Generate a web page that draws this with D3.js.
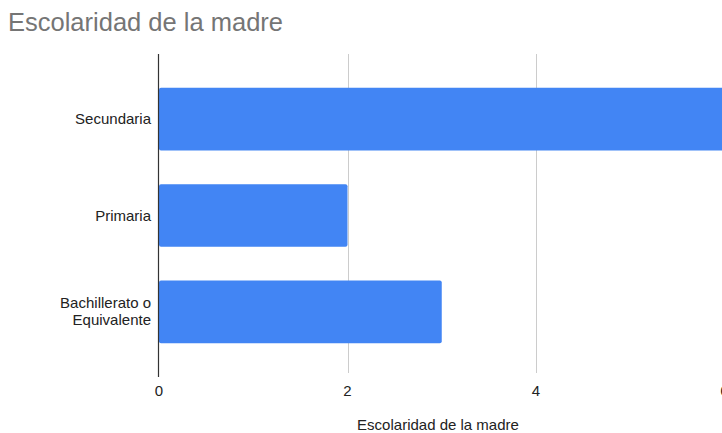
<!DOCTYPE html>
<html>
<head>
<meta charset="utf-8">
<script src="https://cdn.jsdelivr.net/npm/d3@7"></script>
<style>
  html, body { margin: 0; padding: 0; background: #fff; overflow: hidden; }
  svg { display: block; font-family: Arial, "Liberation Sans", sans-serif; }
</style>
</head>
<body>
<div id="chart"></div>
<script>
'use strict';

// chart data
const categories = ["Secundaria", "Primaria", "Bachillerato o Equivalente"];
const categoryLines = [["Secundaria"], ["Primaria"], ["Bachillerato o", "Equivalente"]];
const values = [6, 2, 3];
const tickValues = [0, 2, 4, 6, 8];
const chartTitle = "Escolaridad de la madre";
const xTitle = "Escolaridad de la madre";

const width = 722, height = 433;
const plot = { left: 159, top: 54, bottom: 377, unit: 94.25 };

const svg = d3.select("#chart")
    .append("svg")
    .attr("width", width)
    .attr("height", height);

// x scale: one unit is about 94px
const x = d3.scaleLinear()
    .domain([0, 8])
    .range([plot.left, plot.left + 8 * plot.unit]);

const y = d3.scaleBand()
    .domain(categories)
    .range([plot.top, plot.bottom])
    .paddingInner(0.35)
    .paddingOuter(0.35);

// gridlines
svg.append("g")
    .selectAll("line")
    .data(tickValues.filter(d => d > 0))
    .join("line")
    .attr("x1", d => Math.round(x(d)) + 0.5)
    .attr("x2", d => Math.round(x(d)) + 0.5)
    .attr("y1", plot.top)
    .attr("y2", plot.bottom - 4)
    .attr("stroke", "#cccccc")
    .attr("stroke-width", 1);

// bars
svg.append("g")
    .selectAll("rect")
    .data(values)
    .join("rect")
    .attr("x", x(0))
    .attr("y", (d, i) => y(categories[i]))
    .attr("width", d => x(d) - x(0))
    .attr("height", y.bandwidth())
    .attr("rx", 2)
    .attr("fill", "#4285f4");

// baseline axis
svg.append("line")
    .attr("x1", x(0) - 0.5)
    .attr("x2", x(0) - 0.5)
    .attr("y1", plot.top)
    .attr("y2", plot.bottom)
    .attr("stroke", "#333333")
    .attr("stroke-width", 1.2);

// x tick labels
svg.append("g")
    .selectAll("text")
    .data(tickValues)
    .join("text")
    .attr("x", d => x(d))
    .attr("y", 396)
    .attr("text-anchor", "middle")
    .style("font-size", "15px")
    .style("fill", "#222222")
    .text(d => d);

// category labels
const labels = svg.append("g")
    .selectAll("text")
    .data(categories)
    .join("text")
    .attr("text-anchor", "end")
    .style("font-size", "15px")
    .style("fill", "#222222");

labels.each(function (d, i) {
    const lines = categoryLines[i];
    const cy = y(d) + y.bandwidth() / 2;
    const first = cy + 5 - (lines.length - 1) * 8.5;
    d3.select(this).selectAll("tspan")
        .data(lines)
        .join("tspan")
        .attr("x", 151)
        .attr("y", (t, j) => first + j * 17)
        .text(t => t);
});

// titles
svg.append("text")
    .attr("x", 8)
    .attr("y", 31)
    .style("font-size", "25.5px")
    .style("fill", "#757575")
    .text(chartTitle);

svg.append("text")
    .attr("x", 438)
    .attr("y", 430)
    .attr("text-anchor", "middle")
    .style("font-size", "15px")
    .style("fill", "#222222")
    .text(xTitle);
</script>
</body>
</html>
